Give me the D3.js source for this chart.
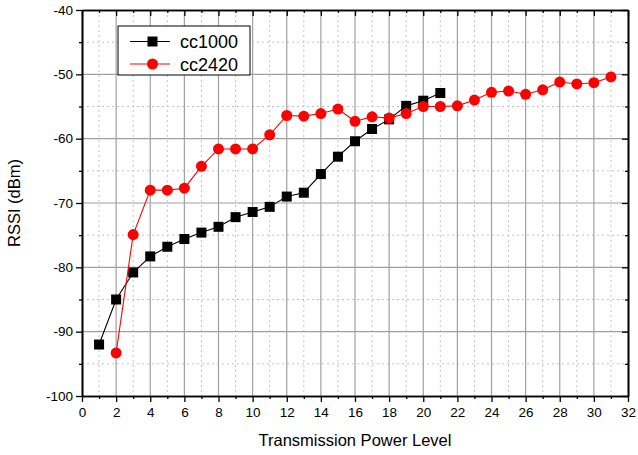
<!DOCTYPE html>
<html>
<head>
<meta charset="utf-8">
<script src="https://cdn.jsdelivr.net/npm/d3@7"></script>
<style>
  body { margin: 0; background: #fff; }
  text { font-family: "Liberation Sans", Arial, sans-serif; }
</style>
</head>
<body>
<div id="chart"></div>
<script>
// data
var levels1000 = [1,2,3,4,5,6,7,8,9,10,11,12,13,14,15,16,17,18,19,20,21];
var rssi1000 = [-92.0,-85.0,-80.8,-78.3,-76.8,-75.6,-74.6,-73.7,-72.2,-71.4,-70.6,
                -69.0,-68.4,-65.5,-62.8,-60.4,-58.5,-57.0,-54.9,-54.1,-52.9];
var levels2420 = [2,3,4,5,6,7,8,9,10,11,12,13,14,15,16,17,18,19,20,21,22,23,24,25,26,27,28,29,30,31];
var rssi2420 = [-93.3,-74.9,-68.0,-68.0,-67.7,-64.3,-61.6,-61.6,-61.6,-59.4,-56.4,-56.5,-56.1,-55.4,
                -57.3,-56.6,-56.8,-56.1,-55.0,-55.0,-54.9,-54.0,-52.8,-52.6,-53.1,-52.4,-51.2,-51.5,-51.3,-50.4];
var xTicks = d3.range(0, 33, 2);
var yTicks = [-100,-90,-80,-70,-60,-50,-40];
var seriesNames = ["cc1000", "cc2420"];

var svgWidth = 638, svgHeight = 455;
var margin = {top: 10, right: 10, bottom: 59, left: 82};
var width = svgWidth - margin.left - margin.right;
var height = svgHeight - margin.top - margin.bottom;

var svg = d3.select("#chart").append("svg")
  .attr("width", svgWidth)
  .attr("height", svgHeight);

var g = svg.append("g")
  .attr("transform", "translate(" + margin.left + "," + margin.top + ")");

var x = d3.scaleLinear().domain([0, 32]).range([0, width]);
var y = d3.scaleLinear().domain([-100, -40]).range([height, 0]);
var plain = d => String(d); // hyphen minus like the original

// grid: minor dotted, then major solid
g.append("g").selectAll("line")
  .data(d3.range(1, 32, 2))
  .enter().append("line")
  .attr("x1", d => x(d)).attr("x2", d => x(d))
  .attr("y1", 0).attr("y2", height)
  .attr("stroke", "#c4c4c4").attr("stroke-dasharray", "2,3");
g.append("g").selectAll("line")
  .data([-95,-85,-75,-65,-55,-45])
  .enter().append("line")
  .attr("x1", 0).attr("x2", width)
  .attr("y1", d => y(d)).attr("y2", d => y(d))
  .attr("stroke", "#c4c4c4").attr("stroke-dasharray", "2,3");
g.append("g").selectAll("line")
  .data(d3.range(2, 32, 2))
  .enter().append("line")
  .attr("x1", d => x(d)).attr("x2", d => x(d))
  .attr("y1", 0).attr("y2", height)
  .attr("stroke", "#a0a0a0").attr("stroke-width", 1.2);
g.append("g").selectAll("line")
  .data([-90,-80,-70,-60,-50])
  .enter().append("line")
  .attr("x1", 0).attr("x2", width)
  .attr("y1", d => y(d)).attr("y2", d => y(d))
  .attr("stroke", "#a0a0a0").attr("stroke-width", 1.2);

// axes
function styleAxis(sel) {
  sel.select(".domain").attr("stroke", "#000").attr("stroke-width", 1.6);
  sel.selectAll(".tick line").attr("stroke", "#000").attr("stroke-width", 1.3);
  sel.selectAll("text").attr("font-size", 13.5).attr("fill", "#000")
    .style("font-family", "'Liberation Sans', Arial, sans-serif");
}

var bottom = g.append("g").attr("transform", "translate(0," + height + ")")
  .call(d3.axisBottom(x).tickValues(xTicks).tickFormat(plain).tickSize(6).tickSizeOuter(0).tickPadding(5));
styleAxis(bottom);
g.append("g").attr("transform", "translate(0," + height + ")")
  .call(d3.axisBottom(x).tickValues(d3.range(1, 32, 2)).tickSize(3).tickFormat("").tickSizeOuter(0))
  .call(styleAxis);

var left = g.append("g")
  .call(d3.axisLeft(y).tickValues(yTicks).tickFormat(plain).tickSize(6).tickSizeOuter(0).tickPadding(3));
styleAxis(left);
g.append("g")
  .call(d3.axisLeft(y).tickValues([-95,-85,-75,-65,-55,-45]).tickSize(3).tickFormat("").tickSizeOuter(0))
  .call(styleAxis);

// mirrored axes with inward ticks
g.append("g")
  .call(d3.axisBottom(x).tickValues(xTicks).tickSize(6).tickFormat("").tickSizeOuter(0))
  .call(styleAxis);
g.append("g")
  .call(d3.axisBottom(x).tickValues(d3.range(1, 32, 2)).tickSize(3).tickFormat("").tickSizeOuter(0))
  .call(styleAxis);
g.append("g").attr("transform", "translate(" + width + ",0)")
  .call(d3.axisLeft(y).tickValues(yTicks).tickSize(6).tickFormat("").tickSizeOuter(0))
  .call(styleAxis);
g.append("g").attr("transform", "translate(" + width + ",0)")
  .call(d3.axisLeft(y).tickValues([-95,-85,-75,-65,-55,-45]).tickSize(3).tickFormat("").tickSizeOuter(0))
  .call(styleAxis);

// axis titles
svg.append("text")
  .attr("x", margin.left + width / 2).attr("y", 446)
  .attr("text-anchor", "middle").attr("font-size", 16.5)
  .text("Transmission Power Level");
svg.append("text")
  .attr("transform", "translate(20," + (margin.top + height / 2) + ") rotate(-90)")
  .attr("text-anchor", "middle").attr("font-size", 16.5)
  .text("RSSI (dBm)");

// series
var line = d3.line().x(d => x(d[0])).y(d => y(d[1]));
var s1000 = d3.zip(levels1000, rssi1000);
var s2420 = d3.zip(levels2420, rssi2420);

g.append("path").datum(s1000).attr("d", line)
  .attr("fill", "none").attr("stroke", "#000").attr("stroke-width", 1.1);
g.selectAll(".sq").data(s1000).enter().append("rect")
  .attr("x", d => x(d[0]) - 5).attr("y", d => y(d[1]) - 5)
  .attr("width", 10).attr("height", 10).attr("fill", "#000");

g.append("path").datum(s2420).attr("d", line)
  .attr("fill", "none").attr("stroke", "#ff0000").attr("stroke-width", 1.1);
g.selectAll(".ci").data(s2420).enter().append("circle")
  .attr("cx", d => x(d[0])).attr("cy", d => y(d[1]))
  .attr("r", 5.5).attr("fill", "#ff0000");

// legend
var lg = svg.append("g").attr("transform", "translate(118,26)");
lg.append("rect").attr("width", 132).attr("height", 49)
  .attr("fill", "#fff").attr("stroke", "#000").attr("stroke-width", 1);
lg.append("line").attr("x1", 12).attr("x2", 52).attr("y1", 15.5).attr("y2", 15.5)
  .attr("stroke", "#000").attr("stroke-width", 1.1);
lg.append("rect").attr("x", 29.5).attr("y", 10.5).attr("width", 10).attr("height", 10).attr("fill", "#000");
lg.append("line").attr("x1", 12).attr("x2", 52).attr("y1", 38).attr("y2", 38)
  .attr("stroke", "#ff0000").attr("stroke-width", 1.1);
lg.append("circle").attr("cx", 34.5).attr("cy", 38).attr("r", 5.5).attr("fill", "#ff0000");
lg.selectAll(".lt").data(seriesNames).enter().append("text")
  .attr("x", 62).attr("y", (d, i) => 22 + i * 22.5)
  .attr("font-size", 18).text(d => d);
</script>
</body>
</html>
